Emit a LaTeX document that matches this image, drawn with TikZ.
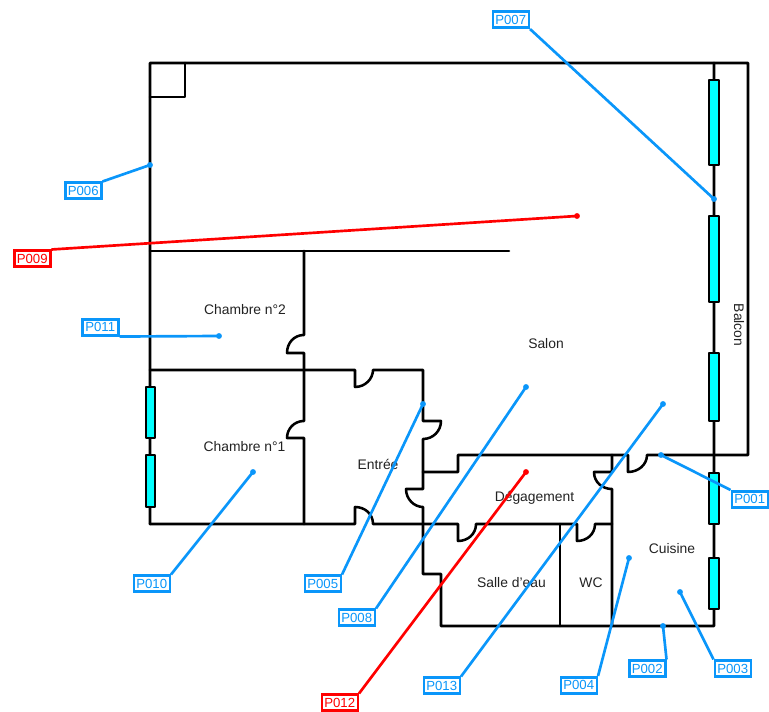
\documentclass[tikz,border=0pt]{standalone}
\usepackage{fontspec}
\setmainfont{Liberation Sans}
\definecolor{lblue}{HTML}{0A96FA}
\definecolor{lred}{HTML}{FF0000}
\definecolor{glass}{HTML}{00FFFF}
\definecolor{roomtext}{HTML}{222222}
\tikzset{
  wall/.style={draw=black,line width=1.9pt,line join=round,line cap=round},
  win/.style={draw=black,fill=glass,line width=1.9pt,line join=round},
  room/.style={text=roomtext,font=\fontsize{10.4}{12}\selectfont,inner sep=0pt},
  tagbase/.style={draw,line width=1.9pt,fill=white,font=\fontsize{9.9}{11}\selectfont,
    minimum width=27pt,minimum height=12pt,inner sep=0pt,anchor=north west},
  bluetag/.style={tagbase,draw=lblue,text=lblue},
  redtag/.style={tagbase,draw=lred,text=lred},
  blueline/.style={draw=lblue,line width=2pt},
  redline/.style={draw=lred,line width=2pt},
}
\newcommand{\tipdot}[2]{\fill[#1] (#2) circle (2.2pt);}
\begin{document}
\begin{tikzpicture}[x=0.75pt,y=-0.75pt]
\useasboundingbox (0,0) rectangle (769,712);
% walls
\draw[wall] (150,524) -- (150,63) -- (748,63) -- (748,455) -- (647,455)
  .. controls (647,465) and (638,472) .. (628,472) -- (628,455) -- (458,455) -- (458,472) -- (423,472);
\draw[wall] (150,97) -- (185,97) -- (185,63);
\draw[wall] (150,251) -- (509,251);
\draw[wall] (304,251) -- (304,335) .. controls (294,335) and (287,343) .. (287,353) -- (304,353)
  -- (304,421) .. controls (294,421) and (287,429) .. (287,438) -- (304,438) -- (304,524);
\draw[wall] (150,370) -- (355,370) -- (355,387) .. controls (365,387) and (373,379) .. (373,370)
  -- (423,370) -- (423,421) -- (441,421) .. controls (441,431) and (433,439) .. (423,439)
  -- (423,489) -- (406,489) .. controls (406,499) and (414,507) .. (423,507)
  -- (423,574) -- (441,574) -- (441,626) -- (714,626) -- (714,63);
\draw[wall] (150,524) -- (355,524) -- (355,507) .. controls (365,507) and (373,514) .. (373,524)
  -- (458,524) -- (458,541) .. controls (468,541) and (476,534) .. (476,524)
  -- (577,524) -- (577,541) .. controls (587,541) and (595,534) .. (595,524) -- (612,524);
\draw[wall] (612,455) -- (612,472) -- (594,472) .. controls (594,482) and (602,489) .. (612,489) -- (612,626);
\draw[wall] (560,524) -- (560,626);
% windows
\draw[win] (146,387) rectangle (155,438);
\draw[win] (146,455) rectangle (155,507);
\draw[win] (709,80) rectangle (719,165);
\draw[win] (709,216) rectangle (719,302);
\draw[win] (709,353) rectangle (719,421);
\draw[win] (709,473) rectangle (719,524);
\draw[win] (709,558) rectangle (719,609);
% rooms
\node[room] (r1) at (245,310) {Chambre n°2};
\node[room] (r2) at (244.5,447) {Chambre n°1};
\node[room] (r3) at (546,344) {Salon};
\node[room] (r4) at (378,464) {Entrée};
\node[room] (r5) at (534.5,498) {Dégagement};
\node[room] (r6) at (511.5,583) {Salle d'eau};
\node[room] (r7) at (591,583) {WC};
\node[room] (r8) at (672,549) {Cuisine};
\node[room,rotate=-90] (r9) at (739,325) {Balcon};
% leader end points
\coordinate (a1) at (661,455);
\coordinate (a2) at (663,626);
\coordinate (a3) at (680,592);
\coordinate (a4) at (629,558);
\coordinate (a5) at (423,404);
\coordinate (a6) at (150,165);
\coordinate (a7) at (714,199);
\coordinate (a8) at (526,387);
\coordinate (a9) at (577,216);
\coordinate (a10) at (253,472);
\coordinate (a11) at (219,336);
\coordinate (a12) at (526,472);
\coordinate (a13) at (663,404);
% tags
\node[bluetag] (p1) at (730.5,490) {P001};
\node[bluetag] (p2) at (628,659.5) {P002};
\node[bluetag] (p3) at (713.5,659.5) {P003};
\node[bluetag] (p4) at (559.5,676) {P004};
\node[bluetag] (p5) at (303.5,574.5) {P005};
\node[bluetag] (p6) at (64,181.5) {P006};
\node[bluetag] (p7) at (491.5,10.5) {P007};
\node[bluetag] (p8) at (337.5,608.5) {P008};
\node[redtag] (p9) at (13,249.5) {P009};
\node[bluetag] (p10) at (132.5,574.5) {P010};
\node[bluetag] (p11) at (81,318) {P011};
\node[redtag] (p12) at (320.5,693.5) {P012};
\node[bluetag] (p13) at (422.5,676.5) {P013};
% leaders
\draw[blueline] (p1.north west) -- (a1); \tipdot{lblue}{a1}
\draw[blueline] (p2.north east) -- (a2); \tipdot{lblue}{a2}
\draw[blueline] (p3.north west) -- (a3); \tipdot{lblue}{a3}
\draw[blueline] (p4.north east) -- (a4); \tipdot{lblue}{a4}
\draw[blueline] (p5.north east) -- (a5); \tipdot{lblue}{a5}
\draw[blueline] (p6.north east) -- (a6); \tipdot{lblue}{a6}
\draw[blueline] (p7.south east) -- (a7); \tipdot{lblue}{a7}
\draw[blueline] (p8.north east) -- (a8); \tipdot{lblue}{a8}
\draw[redline] (p9.north east) -- (a9); \tipdot{lred}{a9}
\draw[blueline] (p10.north east) -- (a10); \tipdot{lblue}{a10}
\draw[blueline] (p11.south east) -- (a11); \tipdot{lblue}{a11}
\draw[redline] (p12.north east) -- (a12); \tipdot{lred}{a12}
\draw[blueline] (p13.north east) -- (a13); \tipdot{lblue}{a13}
\end{tikzpicture}
\end{document}
